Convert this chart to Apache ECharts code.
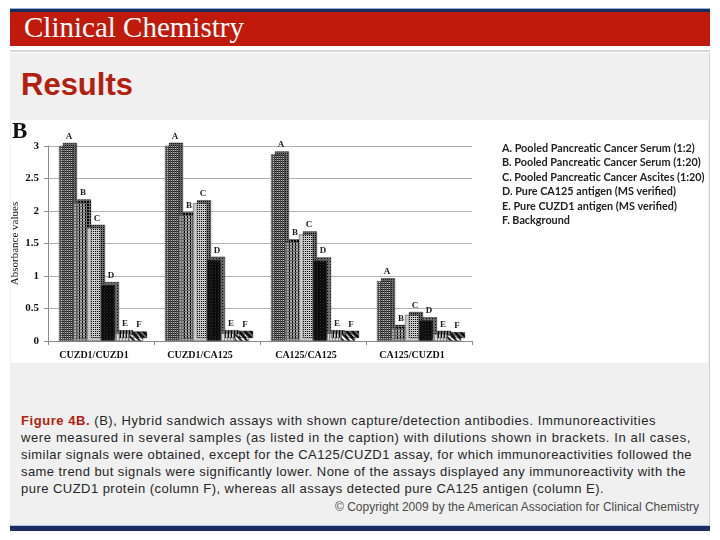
<!DOCTYPE html>
<html>
<head>
<meta charset="utf-8">
<script src="https://cdn.jsdelivr.net/npm/echarts@6/dist/echarts.min.js"></script>
<style>
  html, body { margin: 0; padding: 0; background: #ffffff; }
  #page { position: relative; width: 720px; height: 540px; overflow: hidden; background: #ffffff; }
  .abs { position: absolute; }
  #topline { left: 10px; top: 8px; width: 700px; height: 1px; background: #8fb3da; }
  #navy1 { left: 10px; top: 9px; width: 700px; height: 3px; background: #1d2c5e; }
  #redbar { left: 10px; top: 12px; width: 700px; height: 34px; background: #bf1a0b; }
  #brand { left: 24px; top: 13px; font-family: "Liberation Serif", "DejaVu Serif", serif; font-size: 29px; line-height: 29px; color: #ffffff; white-space: nowrap; }
  #grayline { left: 10px; top: 50px; width: 700px; height: 2px; background: #d9d9d9; }
  #panel { left: 10px; top: 53px; width: 699px; height: 472px; background: #f0f0f0; border-right: 1px solid #d0d0d0; }
  #results { left: 21px; top: 69px; font-family: "Liberation Sans", Arial, sans-serif; font-weight: bold; font-size: 31px; line-height: 31px; color: #b3200f; white-space: nowrap; }
  #chart { left: 11px; top: 120px; width: 697px; height: 243px; background: #ffffff; }
  #caption { left: 21px; top: 412px; font-family: "Liberation Sans", Arial, sans-serif; font-size: 13px; line-height: 17px; color: #262626; }
  #caption div { white-space: nowrap; }
  #caption .fig { color: #b3200f; font-weight: bold; }
  #copy { top: 499px; left: 0px; width: 699px; text-align: right; font-family: "Liberation Sans", Arial, sans-serif; font-size: 12px; line-height: 17px; color: #4a4a4a; white-space: nowrap; }
  #navy2top { left: 10px; top: 525px; width: 700px; height: 1px; background: #a9c5e3; }
  #navy2 { left: 10px; top: 526px; width: 700px; height: 5px; background: #1d2c5e; }
</style>
</head>
<body>
<div id="page">
  <div class="abs" id="topline"></div>
  <div class="abs" id="navy1"></div>
  <div class="abs" id="redbar"></div>
  <div class="abs" id="brand">Clinical Chemistry</div>
  <div class="abs" id="grayline"></div>
  <div class="abs" id="panel"></div>
  <div class="abs" id="results">Results</div>
  <div class="abs" id="chart"></div>
  <div class="abs" id="caption">
    <div class="ln" data-w="635"><span class="fig">Figure 4B.</span> (B), Hybrid sandwich assays with shown capture/detection antibodies. Immunoreactivities</div>
    <div class="ln" data-w="670">were measured in several samples (as listed in the caption) with dilutions shown in brackets. In all cases,</div>
    <div class="ln" data-w="671">similar signals were obtained, except for the CA125/CUZD1 assay, for which immunoreactivities followed the</div>
    <div class="ln" data-w="665">same trend but signals were significantly lower. None of the assays displayed any immunoreactivity with the</div>
    <div class="ln" data-w="583">pure CUZD1 protein (column F), whereas all assays detected pure CA125 antigen (column E).</div>
  </div>
  <div class="abs" id="copy"><span id="copytext">© Copyright 2009 by the American Association for Clinical Chemistry</span></div>
  <div class="abs" id="navy2top"></div>
  <div class="abs" id="navy2"></div>
</div>
<script>
// ---- data ----
const categories = ['CUZD1/CUZD1', 'CUZD1/CA125', 'CA125/CA125', 'CA125/CUZD1'];
const seriesLetters = ['A', 'B', 'C', 'D', 'E', 'F'];
const seriesNames = [
  'Pooled Pancreatic Cancer Serum (1:2)',
  'Pooled Pancreatic Cancer Serum (1:20)',
  'Pooled Pancreatic Cancer Ascites (1:20)',
  'Pure CA125 antigen (MS verified)',
  'Pure CUZD1 antigen (MS verified)',
  'Background'
];
const valuesA = [3.00, 3.02, 2.87, 0.92];
const valuesB = [2.13, 1.94, 1.52, 0.20];
const valuesC = [1.74, 2.12, 1.64, 0.40];
const valuesD = [0.86, 1.25, 1.24, 0.32];
const valuesE = [0.12, 0.12, 0.12, 0.11];
const valuesF = [0.10, 0.11, 0.11, 0.09];
const yAxisName = 'Absorbance values';
const panelLetter = 'B';

// ---- caption letter-spacing fit ----
document.querySelectorAll('#caption .ln').forEach(function (el) {
  el.style.display = 'inline-block';
  const w = el.getBoundingClientRect().width;
  const target = +el.getAttribute('data-w');
  const n = el.textContent.length;
  el.style.letterSpacing = ((target - w) / n).toFixed(3) + 'px';
  el.style.display = 'block';
});
(function () {
  const el = document.getElementById('copytext');
  const w = el.getBoundingClientRect().width;
  const n = el.textContent.length;
  el.style.letterSpacing = ((364 - w) / n).toFixed(3) + 'px';
})();

// ---- chart ----
const allValues = [valuesA, valuesB, valuesC, valuesD, valuesE, valuesF];
const looks = [
  { color: '#4d4d4d', decal: { symbol: 'rect', symbolSize: 1, dashArrayX: [1, 1], dashArrayY: [1, 1], color: 'rgba(235,235,235,0.75)' } },
  { color: '#6a6a6a', decal: { symbol: 'rect', symbolSize: 1, dashArrayX: [2, 1], dashArrayY: [2, 1], color: '#a8a8a8' } },
  { color: '#c2c2c2', decal: { symbol: 'rect', symbolSize: 1, dashArrayX: [1, 1], dashArrayY: [1, 1], color: '#d8d8d8' } },
  { color: '#0e0e0e', decal: { symbol: 'rect', symbolSize: 1, dashArrayX: [1, 2], dashArrayY: [1, 2], color: '#2c2c2c' } },
  { color: '#dcdcdc', decal: { symbol: 'rect', symbolSize: 1, dashArrayX: [1, 2], dashArrayY: [1, 0], color: '#8a8a8a' } },
  { color: '#ffffff', decal: { symbol: 'rect', symbolSize: 1, dashArrayX: [1, 0], dashArrayY: [2, 2], rotation: Math.PI / 4, color: '#1a1a1a' } }
];
const serif = '"Liberation Serif", "DejaVu Serif", serif';

const chart = echarts.init(document.getElementById('chart'), null, { renderer: 'canvas' });
chart.setOption({
  animation: false,
  backgroundColor: '#ffffff',
  grid: { left: 37, top: 26, width: 424, bottom: 22, containLabel: false, outerBoundsMode: 'none' },
  graphic: [
    { type: 'text', left: 1, top: 1, style: { text: panelLetter, font: 'bold 23px ' + serif, fill: '#111' } }
  ],
  legend: {
    orient: 'vertical',
    left: 480,
    top: 17,
    itemWidth: 0,
    itemHeight: 0,
    itemGap: 2,
    selectedMode: false,
    data: seriesNames,
    formatter: function (name) { return seriesLetters[seriesNames.indexOf(name)] + '. ' + name; },
    textStyle: { fontFamily: 'Lato, "Open Sans", sans-serif', fontWeight: 'bold', fontSize: 10.8, lineHeight: 12.5, color: '#222' }
  },
  xAxis: {
    type: 'category',
    data: categories,
    axisLine: { show: true, lineStyle: { color: '#8c8c8c' } },
    axisTick: { show: true, alignWithLabel: false, length: 4, lineStyle: { color: '#8c8c8c' } },
    axisLabel: { fontFamily: serif, fontWeight: 'bold', fontSize: 10, color: '#111', margin: 9, padding: [0, 14, 0, 0] }
  },
  yAxis: {
    type: 'value',
    min: 0,
    max: 3,
    interval: 0.5,
    name: yAxisName,
    nameLocation: 'middle',
    nameGap: 27,
    nameRotate: 90,
    nameMoveOverlap: false,
    nameTextStyle: { fontFamily: serif, fontSize: 11, color: '#111' },
    axisLine: { show: true, lineStyle: { color: '#8c8c8c' } },
    axisTick: { show: true, length: 4, lineStyle: { color: '#8c8c8c' } },
    axisLabel: { fontFamily: serif, fontWeight: 'bold', fontSize: 11, color: '#111', margin: 9 },
    splitLine: { show: true, lineStyle: { color: '#b4b4b4', width: 1 } }
  },
  series: allValues.map(function (vals, i) {
    return {
      type: 'bar',
      name: seriesNames[i],
      data: vals,
      barWidth: 14,
      barGap: '0%',
      itemStyle: {
        color: looks[i].color,
        decal: looks[i].decal,
        borderColor: 'rgba(60,60,60,0.6)',
        borderWidth: 0.5,
        shadowColor: 'rgba(90,90,90,0.9)',
        shadowBlur: 0,
        shadowOffsetX: 4,
        shadowOffsetY: -3
      },
      label: {
        show: true,
        position: 'top',
        distance: 5,
        offset: [3, 0],
        formatter: function () { return seriesLetters[i]; },
        fontFamily: serif,
        fontWeight: 'bold',
        fontSize: 9,
        color: '#222'
      }
    };
  })
});
</script>
</body>
</html>
